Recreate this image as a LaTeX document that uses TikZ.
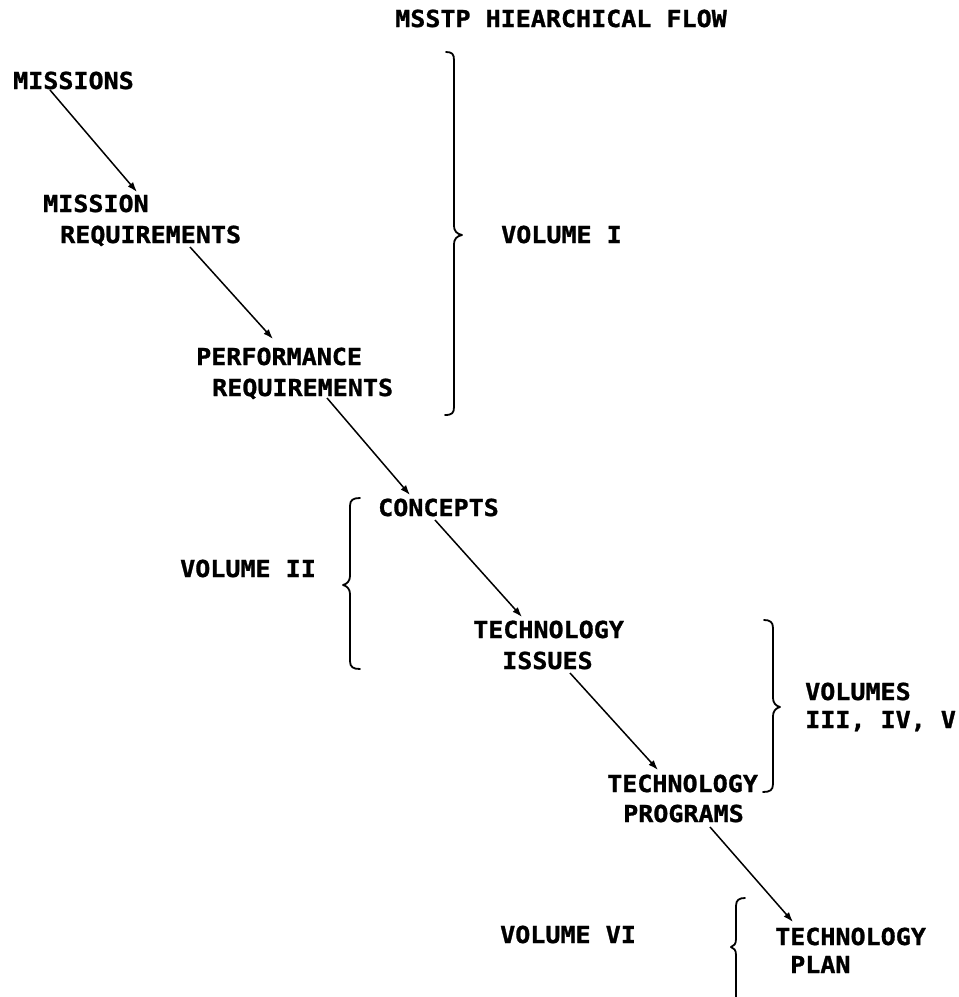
\documentclass[tikz,border=0pt]{standalone}
\usepackage{fontspec}
\usetikzlibrary{calc,arrows.meta}
\newfontfamily\printfont{DejaVu Sans Mono}[FakeStretch=1.07, BoldFeatures={FakeBold=1.2}]

\tikzset{
  lbl/.style={font=\printfont\bfseries\fontsize{23.4}{31}\selectfont,
              inner sep=0pt, anchor=base west, align=left},
  flow/.style={line width=1.5pt, -{Latex[length=10pt,width=7pt]}},
  bracket/.style={line width=1.8pt, line cap=round, line join=round}
}

\begin{document}
\begin{tikzpicture}[x=1pt, y=-1pt]
\useasboundingbox (0,0) rectangle (959,997);

% title
\node[lbl] (title) at (395,27) {MSSTP HIEARCHICAL FLOW};

% chain of stages (multi-line labels sit on the baseline of their last line)
\node[lbl] (missions) at (13,89)  {MISSIONS};
\node[lbl] (mreq)     at (43,243) {MISSION\\\hspace*{17pt}REQUIREMENTS};
\node[lbl] (perf)     at (196,396){PERFORMANCE\\\hspace*{16pt}REQUIREMENTS};
\node[lbl] (concepts) at (378,516){CONCEPTS};
\node[lbl] (issues)   at (473,669){TECHNOLOGY\\\hspace*{29pt}ISSUES};
\node[lbl] (programs) at (607,822){TECHNOLOGY\\[-1pt]\hspace*{16pt}PROGRAMS};
\node[lbl] (plan)     at (775,973){TECHNOLOGY\\[-3pt]\hspace*{15pt}PLAN};

% volume labels
\node[lbl] (vol1)   at (501,243) {VOLUME I};
\node[lbl] (vol2)   at (180,577) {VOLUME II};
\node[lbl] (vol345) at (805,728) {VOLUMES\\[-3pt]III, IV, V};
\node[lbl] (vol6)   at (500,943) {VOLUME VI};

% flow arrows
\draw[flow] ($(missions.base west)+(37,1)$)   -- ($(mreq.base west)+(94,-51)$);
\draw[flow] ($(mreq.base west)+(147,4)$)      -- ($(perf.base west)+(77,-57)$);
\draw[flow] ($(perf.base west)+(131,2)$)      -- ($(concepts.base west)+(32,-21)$);
\draw[flow] ($(concepts.base west)+(57,4)$)   -- ($(issues.base west)+(49,-52)$);
\draw[flow] ($(issues.base west)+(97,4)$)     -- ($(programs.base west)+(51,-52)$);
\draw[flow] ($(programs.base west)+(103,5)$)  -- ($(plan.base west)+(18,-51)$);

% closing brace: Volume I
\draw[bracket] (446,52) .. controls (452,52) and (454,54) .. (454,60)
  -- (454,226) .. controls (454,231) and (457,234) .. (462,235)
  .. controls (457,236) and (454,239) .. (454,244)
  -- (454,407) .. controls (454,413) and (452,415) .. (445,415);

% opening brace: Volume II
\draw[bracket] (360,498) .. controls (353,498) and (350,500) .. (350,506)
  -- (350,576) .. controls (350,581) and (347,584) .. (343,585)
  .. controls (347,586) and (350,589) .. (350,594)
  -- (350,661) .. controls (350,667) and (353,669) .. (360,669);

% closing brace: Volumes III, IV, V
\draw[bracket] (764,620) .. controls (770,620) and (773,622) .. (773,628)
  -- (773,698) .. controls (773,703) and (776,706) .. (780,707)
  .. controls (776,708) and (773,711) .. (773,716)
  -- (773,784) .. controls (773,790) and (770,792) .. (763,792);

% opening brace: Volume VI
\draw[bracket] (745,898) .. controls (739,898) and (736,900) .. (736,906)
  -- (736,939) .. controls (736,944) and (734,946) .. (731,947)
  .. controls (734,948) and (736,950) .. (736,955)
  -- (736,997);
\end{tikzpicture}
\end{document}
